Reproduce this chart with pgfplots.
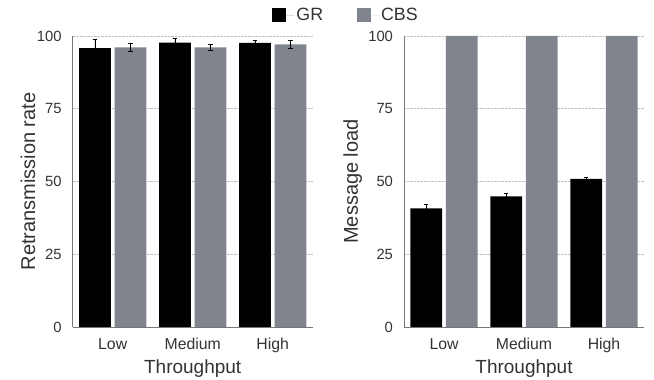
\documentclass[border=0pt]{standalone}
\usepackage{pgfplots}
\pgfplotsset{compat=1.18}
\usepackage{fontspec}
\setmainfont{Liberation Sans}
\definecolor{cbsgray}{HTML}{80848D}
\definecolor{txt}{HTML}{333333}
\definecolor{axgray}{HTML}{777777}
\pgfplotsset{
  mystyle/.style={
    scale only axis, width=240pt, height=291pt,
    xmin=-0.5, xmax=2.5, ymin=0, ymax=100,
    xtick={0,1,2}, xticklabels={Low,Medium,High},
    ytick={0,25,50,75,100},
    axis x line*=bottom, axis y line*=left,
    axis line style={draw=axgray, line width=0.8pt},
    major tick length=0pt,
    ymajorgrids, grid style={densely dotted, gray!50, line width=0.5pt},
    /pgf/number format/assume math mode=true,
    xticklabel style={font=\fontsize{15.8}{16}\selectfont, text=txt, yshift=-8pt},
    yticklabel style={font=\fontsize{14.8}{15}\selectfont, text=txt, xshift=-7.5pt},
    xlabel={Throughput},
    xlabel style={font=\fontsize{19}{19}\selectfont, text=txt, at={(axis description cs:0.5,-0.159)}, anchor=base},
    ylabel style={font=\fontsize{20}{20}\selectfont, text=txt, anchor=base},
    ybar, bar width=31.7pt,
  },
  grbar/.style={fill=black, draw=none, bar shift=-17.75pt,
    legend image code/.code={\fill[black] (0pt,-7pt) rectangle (14pt,7pt);\path (0pt,0pt) -- (22pt,0pt);}},
  cbsbar/.style={fill=cbsgray, draw=none, bar shift=17.75pt,
    legend image code/.code={\fill[cbsgray] (0pt,-7pt) rectangle (14pt,7pt);\path (0pt,0pt) -- (22pt,0pt);}},
  myerr/.style={error bars/.cd, y dir=both, y explicit,
    error bar style={black, line width=0.6pt},
    error mark options={rotate=90, mark size=2.2pt, black, line width=0.6pt}},
}
\begin{document}
\begin{tikzpicture}
\begin{axis}[mystyle, at={(0pt,0pt)}, anchor=south west,
  ylabel={Retransmission rate},
  ylabel style={at={(axis description cs:-0.157,0.5)}},
  legend columns=2,
  legend style={draw=none, fill=none, font=\fontsize{17.8}{18}\selectfont, text=txt,
    at={(axis description cs:1.139,1.072)}, anchor=center,
    /tikz/every even column/.append style={column sep=32pt}},
]
\addplot[grbar, myerr] table[x=x, y=y, y error=e] {
x y e
0 95.8 2.9
1 97.7 1.5
2 97.6 1.0
};
\addlegendentry{GR}
\addplot[cbsbar, myerr] table[x=x, y=y, y error=e] {
x y e
0 96.1 1.3
1 96.1 1.0
2 97.1 1.4
};
\addlegendentry{CBS}
\end{axis}
\begin{axis}[mystyle, at={(331.3pt,0pt)}, anchor=south west,
  ylabel={Message load},
  ylabel style={at={(axis description cs:-0.192,0.5)}},
]
\addplot[grbar, myerr] table[x=x, y=y, y error=e] {
x y e
0 40.8 1.4
1 44.9 0.9
2 50.9 0.7
};
\addplot[cbsbar] table[x=x, y=y] {
x y
0 100
1 100
2 100
};
\end{axis}
\pgfresetboundingbox
\path (-72.7pt,-53pt) rectangle (581.3pt,327pt);
\end{tikzpicture}
\end{document}
